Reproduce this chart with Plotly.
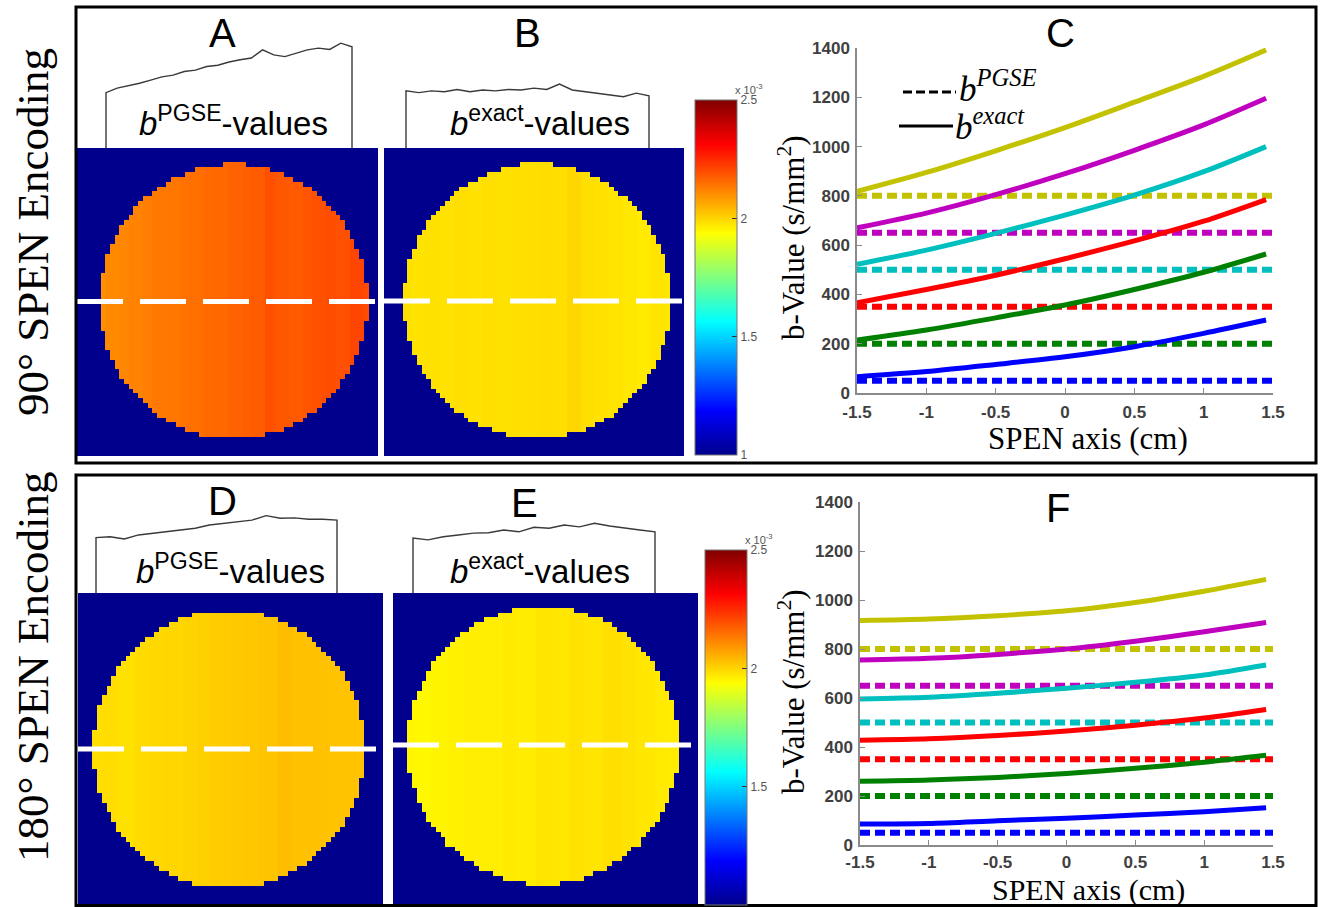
import numpy as np
import plotly.graph_objects as go

W, H = 1322, 907
def px(x): return x / W
def py(y): return 1 - y / H

# ------------------------------------------------------------------ data
spen_x = [-1.5, -1.0, -0.5, 0.0, 0.5, 1.0, 1.45]
pgse_levels = [50, 200, 350, 500, 650, 800]

c_blue = [66, 87, 116, 147, 188, 242, 296]
c_green = [215, 256, 305, 357, 420, 490, 564]
c_red = [366, 420, 478, 545, 617, 697, 785]
c_cyan = [522, 580, 648, 722, 803, 898, 1000]
c_magenta = [670, 730, 805, 890, 985, 1088, 1196]
c_yellow = [818, 895, 983, 1077, 1180, 1285, 1392]

f_blue = [86, 88, 99, 109, 122, 136, 152]
f_green = [260, 265, 276, 292, 313, 338, 366]
f_red = [428, 434, 447, 465, 489, 518, 553]
f_cyan = [596, 603, 619, 640, 664, 694, 735]
f_magenta = [755, 762, 778, 800, 832, 870, 908]
f_yellow = [916, 922, 936, 956, 990, 1036, 1084]

profile_A = [2.100, 2.110, 2.115, 2.121, 2.128, 2.135, 2.139, 2.147, 2.150, 2.158, 2.161, 2.168,
             2.173, 2.177, 2.195, 2.184, 2.180, 2.187, 2.195, 2.199, 2.196, 2.210, 2.202]
profile_B = [1.982, 1.978, 1.982, 1.980, 1.985, 1.980, 1.984, 1.982, 1.985, 1.984, 1.988, 1.985,
             1.997, 1.984, 1.980, 1.977, 1.973, 1.969, 1.977, 1.971]
profile_D = [1.985, 1.987, 1.982, 1.991, 1.995, 1.998, 2.002, 2.006, 2.013, 2.017, 2.020, 2.024,
             2.034, 2.028, 2.029, 2.026, 2.026, 2.024]
profile_E = [1.951, 1.947, 1.954, 1.958, 1.962, 1.963, 1.969, 1.965, 1.975, 1.973, 1.980, 1.976,
             1.984, 1.978, 1.973, 1.969, 1.965]
background_value = 1.0

x_ticks = [-1.5, -1, -0.5, 0, 0.5, 1, 1.5]
x_ticktext = ["-1.5", "-1", "-0.5", "0", "0.5", "1", "1.5"]
y_ticks = [0, 200, 400, 600, 800, 1000, 1200, 1400]
cb_ticks = [1, 1.5, 2, 2.5]
cb_ticktext = ["1", "1.5", "2", "2.5"]

# ------------------------------------------------------------------ style
COLORS = ["#0000FF", "#008000", "#FF0000", "#00BFBF", "#BF00BF", "#C2C200"]
JET = [[0.0, "rgb(0,0,140)"], [0.125, "rgb(0,0,255)"], [0.375, "rgb(0,255,255)"],
       [0.625, "rgb(255,255,0)"], [0.875, "rgb(255,0,0)"], [1.0, "rgb(128,0,0)"]]
SERIF = "Liberation Serif"
SANS = "Liberation Sans"
NGRID = 64
RADIUS = 28.5

fig = go.Figure()
layout = {}

def add_lineplot(xa, ya, curves, xdom, ydom, xstandoff):
    for col, lvl in zip(COLORS, pgse_levels):
        fig.add_trace(go.Scatter(x=[x_ticks[0], x_ticks[-1]], y=[lvl, lvl], mode="lines",
                                 line=dict(color=col, width=6, dash="10px,5px"),
                                 xaxis=xa, yaxis=ya, showlegend=False, hoverinfo="skip"))
    for col, ys in zip(COLORS, curves):
        fig.add_trace(go.Scatter(x=spen_x, y=ys, mode="lines",
                                 line=dict(color=col, width=5, shape="spline", smoothing=0.8),
                                 xaxis=xa, yaxis=ya, showlegend=False))
    axis_common = dict(showline=True, linecolor="#8a8a8a", linewidth=1.5, ticks="inside",
                       ticklen=5, tickcolor="#8a8a8a", showgrid=False, zeroline=False,
                       automargin=False,
                       tickfont=dict(family=SANS, size=17, color="#404040", weight="bold"))
    xn = "xaxis" + xa[1:]
    yn = "yaxis" + ya[1:]
    layout[xn] = dict(domain=xdom, range=[-1.5, 1.5], anchor=ya, tickvals=x_ticks,
                      ticktext=x_ticktext, ticklabelstandoff=xstandoff, **axis_common)
    layout[yn] = dict(domain=ydom, range=[0, 1400], anchor=xa, tickvals=y_ticks,
                      ticklabelstandoff=2, **axis_common)

add_lineplot("x", "y", [c_blue, c_green, c_red, c_cyan, c_magenta, c_yellow],
             [px(857), px(1273)], [py(393), py(48)], 3)
add_lineplot("x2", "y2", [f_blue, f_green, f_red, f_cyan, f_magenta, f_yellow],
             [px(860), px(1273)], [py(845), py(502)], 1)

def disk_image(profile, cx, cy):
    z = []
    n = len(profile)
    for i in range(NGRID):
        row = []
        for j in range(NGRID):
            if (j - cx) ** 2 + (i - cy) ** 2 <= RADIUS ** 2:
                f = min(max((j - (cx - RADIUS)) / (2 * RADIUS), 0), 1)
                row.append(profile[int(round(f * (n - 1)))])
            else:
                row.append(background_value)
        z.append(row)
    return z

images = [
    (3, profile_A, 32.8, 31.4, (77, 378), (148, 456), "coloraxis"),
    (4, profile_B, 32.2, 31.3, (384, 684), (148, 456), "coloraxis"),
    (5, profile_D, 31.2, 31.5, (78, 383), (593, 905), "coloraxis2"),
    (6, profile_E, 31.0, 30.7, (393, 698), (593, 905), "coloraxis2"),
]
for idx, prof, cx, cy, xr, yr, cax in images:
    xa, ya = "x%d" % idx, "y%d" % idx
    fig.add_trace(go.Heatmap(z=disk_image(prof, cx, cy), coloraxis=cax,
                             xaxis=xa, yaxis=ya, hoverinfo="skip"))
    layout["xaxis%d" % idx] = dict(domain=[px(xr[0]), px(xr[1])], range=[-0.5, NGRID - 0.5],
                                  visible=False, anchor=ya)
    layout["yaxis%d" % idx] = dict(domain=[py(yr[1]), py(yr[0])], range=[NGRID - 0.5, -0.5],
                                  visible=False, anchor=xa)

for cax, top, xleft in (("coloraxis", 100, 695), ("coloraxis2", 550, 705)):
    layout[cax] = dict(
        colorscale=JET, cmin=1.0, cmax=2.5,
        colorbar=dict(x=px(xleft), xanchor="left", y=py(top), yanchor="top",
                      len=355, lenmode="pixels", thickness=42, thicknessmode="pixels",
                      xpad=0, ypad=0, outlinewidth=1, outlinecolor="#777",
                      tickvals=cb_ticks, ticktext=cb_ticktext, ticks="inside", ticklen=5,
                      tickcolor="#333", tickfont=dict(family=SANS, size=12, color="#555")))

shapes = []
for idx, prof, cx, cy, xr, yr, cax in images:
    shapes.append(dict(type="line", xref="x%d" % idx, yref="y%d" % idx,
                       x0=-0.5, x1=NGRID - 0.5, y0=cy, y1=cy,
                       line=dict(color="white", width=5, dash="46px,17px")))

SCALE = 450.0
boxes = [
    (7, profile_A, 1.977, (106, 352), 148),
    (8, profile_B, 1.855, (406, 649), 148),
    (9, profile_D, 1.862, (96, 337), 593),
    (10, profile_E, 1.829, (413, 655), 593),
]
for idx, prof, base, (bx0, bx1), ybot in boxes:
    xa, ya = "x%d" % idx, "y%d" % idx
    n = len(prof)
    xs = [0.0] + list(np.linspace(0, 1, n)) + [1.0]
    ys = [base] + list(prof) + [base]
    fig.add_trace(go.Scatter(x=xs, y=ys, mode="lines", line=dict(color="#3a3a3a", width=1.4),
                             xaxis=xa, yaxis=ya, showlegend=False, hoverinfo="skip"))
    pad = 5
    w = bx1 - bx0
    layout["xaxis%d" % idx] = dict(domain=[px(bx0 - pad), px(bx1 + pad)],
                                  range=[-pad / w, 1 + pad / w], visible=False, anchor=ya)
    top = ybot - 125
    layout["yaxis%d" % idx] = dict(domain=[py(ybot + 2), py(top)],
                                  range=[base - 2 / SCALE, base + (ybot - top) / SCALE],
                                  visible=False, anchor=xa)

shapes.append(dict(type="rect", xref="paper", yref="paper", x0=px(76), x1=px(1316),
                   y0=py(463), y1=py(7), line=dict(color="black", width=3)))
shapes.append(dict(type="rect", xref="paper", yref="paper", x0=px(76), x1=px(1316),
                   y0=py(905.5), y1=py(475), line=dict(color="black", width=3)))
shapes.append(dict(type="line", xref="paper", yref="paper", x0=px(903), x1=px(956),
                   y0=py(92), y1=py(92), line=dict(color="black", width=3, dash="9px,4px")))
shapes.append(dict(type="line", xref="paper", yref="paper", x0=px(899), x1=px(953),
                   y0=py(126), y1=py(126), line=dict(color="black", width=3)))

ann = []
def A(text, x, y, size, family=SANS, angle=0, color="black", xanchor="center", yanchor="middle"):
    ann.append(dict(text=text, x=px(x), y=py(y), xref="paper", yref="paper", showarrow=False,
                    textangle=angle, xanchor=xanchor, yanchor=yanchor,
                    font=dict(family=family, size=size, color=color)))

for letter, x, y in (("A", 222, 33), ("B", 527, 33), ("C", 1060, 33),
                     ("D", 222, 501), ("E", 524, 503), ("F", 1058, 508)):
    A(letter, x, y, 40)

A("<i>b</i><sup>PGSE</sup>-values", 233, 121, 33)
A("<i>b</i><sup>exact</sup>-values", 540, 121, 33)
A("<i>b</i><sup>PGSE</sup>-values", 231, 569, 33)
A("<i>b</i><sup>exact</sup>-values", 540, 569, 33)

A("90° SPEN Encoding", 33, 232, 45, family=SERIF, angle=-90)
A("180° SPEN Encoding", 33, 667, 45, family=SERIF, angle=-90)

A("b-Value (s/mm<sup>2</sup>)", 791, 238, 31, family=SERIF, angle=-90)
A("b-Value (s/mm<sup>2</sup>)", 791, 692, 31, family=SERIF, angle=-90)
A("SPEN axis (cm)", 1088, 438, 31, family=SERIF)
A("SPEN axis (cm)", 1088, 890, 30, family=SERIF)

A("<i>b<sup>PGSE</sup></i>", 957, 86, 35, family=SERIF, xanchor="left")
A("<i>b<sup>exact</sup></i>", 953, 124, 35, family=SERIF, xanchor="left")

A("x 10<sup>-3</sup>", 733, 89, 11, color="#555", xanchor="left")
A("x 10<sup>-3</sup>", 743, 539, 11, color="#555", xanchor="left")

fig.update_layout(width=W, height=H, margin=dict(l=0, r=0, t=0, b=0, pad=0, autoexpand=False),
                  paper_bgcolor="white", plot_bgcolor="rgba(0,0,0,0)",
                  shapes=shapes, annotations=ann, showlegend=False, **layout)

fig.write_html("out.html",
               post_script="document.body.style.margin='0';"
                           "document.documentElement.style.overflow='hidden';")
